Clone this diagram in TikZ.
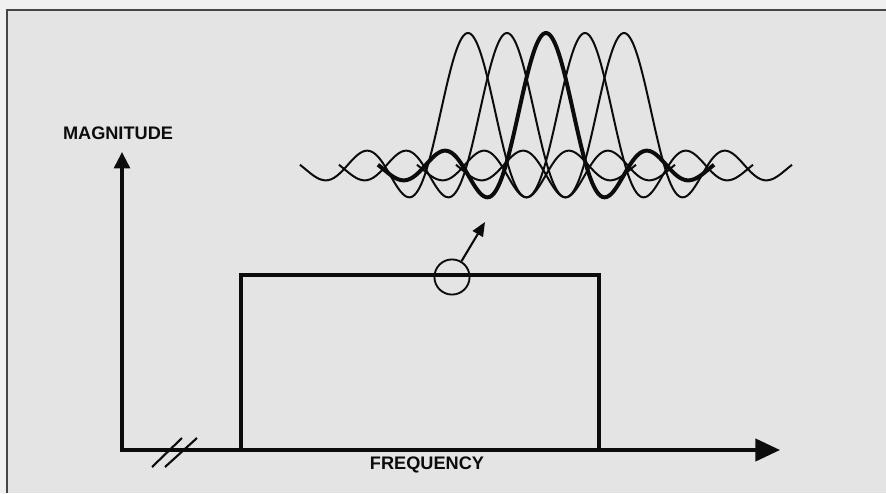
\documentclass[tikz,border=0pt]{standalone}
\usepackage{fontspec}
\setmainfont{Liberation Sans}
\usetikzlibrary{arrows.meta, positioning, calc}
\definecolor{paper}{RGB}{228,228,228}
\definecolor{margin}{RGB}{240,240,240}
\definecolor{framegray}{RGB}{70,70,70}
\definecolor{ink}{RGB}{12,12,12}

\tikzset{
  axisline/.style={line width=2.9pt, ink, line join=miter},
  bandline/.style={line width=3.7pt, ink, line join=miter},
  carrier/.style={line width=1.7pt, ink},
  maincarrier/.style={line width=3.4pt, ink},
  axislabel/.style={font=\bfseries\fontsize{15.5}{18}\selectfont, text=ink, inner sep=0pt},
}

\begin{document}
\begin{tikzpicture}[x=0.03cm, y=-0.03cm]
        \useasboundingbox (0,0) rectangle (886,493);
        % Paper and frame
        \fill[margin] (0,0) rectangle (886,493);
        \fill[paper] (7,10) rectangle (886,493);
        \draw[framegray, line width=1.6pt] (7,493) -- (7,10) -- (886,10);

        % Axes
        \coordinate (origin) at (122,450);
        \coordinate (ytip) at (122,152);
        \coordinate (xtip) at (780,450);
        \draw[axisline, {Triangle[length=14pt, width=13.5pt]}-{Triangle[length=21pt, width=19pt]}]
            (ytip) -- (origin) -- (xtip);

        % Axis break
        \draw[ink, line width=1.8pt] (152,467) -- (182,438);
        \draw[ink, line width=1.8pt] (165,467) -- (197,438);

        % Labels
        \node[axislabel] (maglabel) at (118,133) {MAGNITUDE};
        \node[axislabel] (freqlabel) at (427,465) {FREQUENCY};

        % Band
        \draw[bandline] (241,451) -- (241,275) -- (599,275) -- (599,451);

        % Detail marker
        \node[circle, draw=ink, line width=1.6pt, minimum size=30pt, inner sep=0pt] (probe) at (452,277) {};
        \coordinate (zoomtip) at (485,222);
        \draw[ink, line width=1.8pt, -{Triangle[length=12pt, width=10pt]}] (probe.59) -- (zoomtip);

        % Subcarriers
        \foreach \k in {0,1,3,4}
            \draw[carrier] plot[domain=-4.1:4.1, samples=200, smooth]
                ({468+39*\k+41*\x}, {168-135*sin(180*\x)/(pi*\x)});
        \draw[maincarrier] plot[domain=-4.1:4.1, samples=200, smooth]
            ({546+41*\x}, {168-135*sin(180*\x)/(pi*\x)});
    \end{tikzpicture}
\end{document}
